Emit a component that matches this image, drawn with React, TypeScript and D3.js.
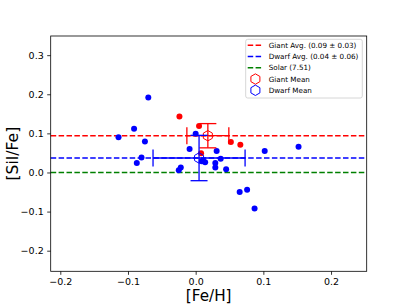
import { useEffect, useRef } from 'react'
import * as d3 from 'd3'

// dwarf stars [Fe/H], [SiI/Fe]
const dwarfFe = [-0.114, -0.091, -0.070, -0.075, -0.080, -0.087, -0.025, -0.022, -0.009, 0.000, 0.009, 0.014, 0.031, 0.029, 0.029, 0.037, 0.045, 0.065, 0.076, 0.087, 0.102, 0.152, 0.011]
const dwarfSi = [0.090, 0.112, 0.192, 0.079, 0.038, 0.024, 0.006, 0.013, 0.060, 0.099, 0.029, 0.026, 0.055, 0.024, 0.013, 0.035, 0.008, -0.050, -0.044, -0.092, 0.055, 0.066, 0.030]

// giant stars
const giantFe = [-0.024, 0.005, 0.008, 0.052, 0.066]
const giantSi = [0.143, 0.119, 0.049, 0.078, 0.071]

const giantAvg = 0.094
const dwarfAvg = 0.037
const solar = 0

const giantMean = { x: 0.018, y: 0.094, xerr: 0.031, yerr: 0.031 }
const dwarfMean = { x: 0.005, y: 0.037, xerr: 0.068, yerr: 0.058 }

const xTicks = [-0.2, -0.1, 0.0, 0.1, 0.2]
const yTicks = [-0.2, -0.1, 0.0, 0.1, 0.2, 0.3]

const legendItems = [
  { label: 'Giant Avg. (0.09 ± 0.03)', color: 'red', kind: 'line' },
  { label: 'Dwarf Avg. (0.04 ± 0.06)', color: 'blue', kind: 'line' },
  { label: 'Solar (7.51)', color: 'green', kind: 'line' },
  { label: 'Giant Mean', color: 'red', kind: 'hex' },
  { label: 'Dwarf Mean', color: 'blue', kind: 'hex' },
]

const hexPath = (cx: number, cy: number, r: number) => {
  const pts = d3.range(6).map(i => {
    const a = -Math.PI / 2 + i * Math.PI / 3
    return [cx + r * Math.cos(a), cy + r * Math.sin(a)]
  })
  return 'M' + pts.map(p => p.join(',')).join('L') + 'Z'
}

const App = () => {
  const svgRef = useRef<SVGSVGElement>(null)

  useEffect(() => {
    if (!svgRef.current) return
    const width = 407
    const height = 305
    const margin = { top: 36, right: 40.3, bottom: 33.7, left: 50.7 }

    const root = d3.select(svgRef.current)
    root.selectAll('*').remove()
    root.attr('width', width).attr('height', height)
      .style('font-family', 'DejaVu Sans, sans-serif')

    const w = width - margin.left - margin.right
    const h = height - margin.top - margin.bottom

    const x = d3.scaleLinear().domain([-0.2142, 0.2527]).range([0, w])
    const y = d3.scaleLinear().domain([-0.2527, 0.349]).range([h, 0])

    const svg = root.append('g')
      .attr('transform', `translate(${margin.left},${margin.top})`)

    const plot = svg.append('g')

    // horizontal reference lines
    const hlines = [
      { v: giantAvg, c: 'red' },
      { v: dwarfAvg, c: 'blue' },
      { v: solar, c: 'green' },
    ]
    plot.selectAll('.hline')
      .data(hlines)
      .enter().append('line')
      .attr('x1', 0).attr('x2', w)
      .attr('y1', d => y(d.v)).attr('y2', d => y(d.v))
      .style('stroke', d => d.c)
      .style('stroke-width', 1.5)
      .style('stroke-dasharray', '5.5,2.4')

    plot.selectAll('.dwarf')
      .data(d3.zip(dwarfFe, dwarfSi))
      .enter().append('circle')
      .attr('cx', d => x(d[0]))
      .attr('cy', d => y(d[1]))
      .attr('r', 3)
      .style('fill', 'blue')

    plot.selectAll('.giant')
      .data(d3.zip(giantFe, giantSi))
      .enter().append('circle')
      .attr('cx', d => x(d[0]))
      .attr('cy', d => y(d[1]))
      .attr('r', 3)
      .style('fill', 'red')

    // mean markers with error bars
    const means = [
      { m: giantMean, c: 'red' },
      { m: dwarfMean, c: 'blue' },
    ]
    const cap = 8.5
    means.forEach(({ m, c }) => {
      const g = plot.append('g').style('stroke', c).style('stroke-width', 1.3).style('fill', 'none')
      const cx = x(m.x)
      const cy = y(m.y)
      const x0 = x(m.x - m.xerr)
      const x1 = x(m.x + m.xerr)
      const y0 = y(m.y - m.yerr)
      const y1 = y(m.y + m.yerr)
      g.append('line').attr('x1', x0).attr('x2', x1).attr('y1', cy).attr('y2', cy)
      g.append('line').attr('x1', cx).attr('x2', cx).attr('y1', y0).attr('y2', y1)
      g.append('line').attr('x1', x0).attr('x2', x0).attr('y1', cy - cap).attr('y2', cy + cap)
      g.append('line').attr('x1', x1).attr('x2', x1).attr('y1', cy - cap).attr('y2', cy + cap)
      g.append('line').attr('x1', cx - cap).attr('x2', cx + cap).attr('y1', y0).attr('y2', y0)
      g.append('line').attr('x1', cx - cap).attr('x2', cx + cap).attr('y1', y1).attr('y2', y1)
      g.append('path').attr('d', hexPath(cx, cy, 5.2)).style('stroke-width', 1)
    })

    // axes
    const xAxis = svg.append('g')
      .attr('transform', `translate(0,${h})`)
      .call(d3.axisBottom(x).tickValues(xTicks).tickSize(3.5).tickPadding(3.5).tickFormat(d3.format('.1f')))
    const yAxis = svg.append('g')
      .call(d3.axisLeft(y).tickValues(yTicks).tickSize(3.5).tickPadding(3.5).tickFormat(d3.format('.1f')))
    ;[xAxis, yAxis].forEach(a => {
      a.select('.domain').remove()
      a.selectAll('text').style('font-size', '9.5px').style('font-family', 'DejaVu Sans, sans-serif').style('fill', '#000')
      a.selectAll('line').style('stroke', '#000').style('stroke-width', 0.8)
    })
    xAxis.selectAll('text').text(d => d3.format('.1f')(d as number).replace('-', '\u2212'))
    yAxis.selectAll('text').text(d => d3.format('.1f')(d as number).replace('-', '\u2212'))

    svg.append('rect')
      .attr('width', w).attr('height', h)
      .style('fill', 'none').style('stroke', '#000').style('stroke-width', 0.8)

    // axis labels
    svg.append('text')
      .attr('x', w / 2).attr('y', h + 29.8)
      .attr('text-anchor', 'middle')
      .style('font-size', '15.2px')
      .text('[Fe/H]')
    svg.append('text')
      .attr('transform', `translate(${-margin.left + 17.5},${h / 2}) rotate(-90)`)
      .attr('text-anchor', 'middle')
      .style('font-size', '15.5px')
      .text('[SiI/Fe]')

    // legend
    const lg = svg.append('g').attr('transform', `translate(${245.7 - margin.left},${39.3 - margin.top})`)
    lg.append('rect')
      .attr('width', 116.6).attr('height', 58.7)
      .attr('rx', 2)
      .style('fill', 'white').style('fill-opacity', 0.8)
      .style('stroke', '#ccc').style('stroke-width', 0.8)
    const item = lg.selectAll('.item')
      .data(legendItems)
      .enter().append('g')
      .attr('transform', (d, i) => `translate(0,${6 + i * 11.25})`)
    item.filter(d => d.kind === 'line').append('line')
      .attr('x1', 2).attr('x2', 17.5).attr('y1', 0).attr('y2', 0)
      .style('stroke', d => d.color).style('stroke-width', 1.5)
      .style('stroke-dasharray', '5.5,2.4')
    item.filter(d => d.kind === 'hex').append('path')
      .attr('d', hexPath(9.7, 0, 5.2))
      .style('fill', 'none').style('stroke', d => d.color).style('stroke-width', 1)
    item.append('text')
      .attr('x', 23).attr('y', 0).attr('dy', '0.35em')
      .style('font-size', '7.2px')
      .text(d => d.label)
  }, [])

  return <svg ref={svgRef} style={{ position: 'absolute', left: 0, top: 0 }}></svg>
}

export default App
